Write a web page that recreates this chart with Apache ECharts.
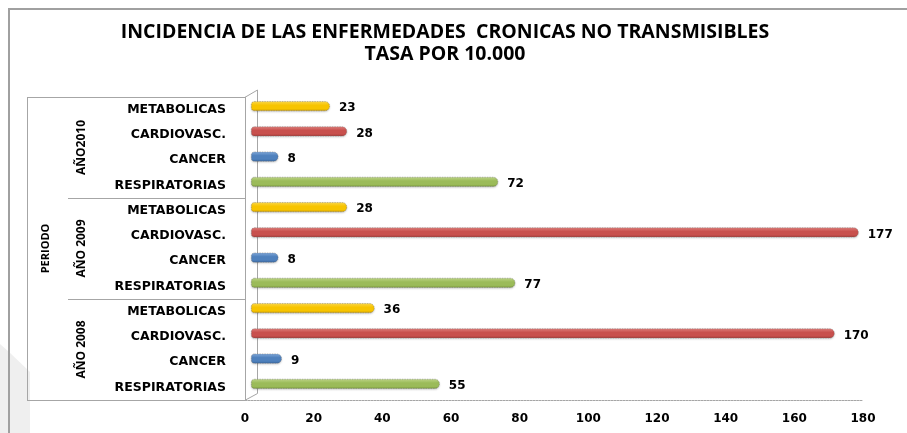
<!DOCTYPE html>
<html>
<head>
<meta charset="utf-8">
<script src="https://cdn.jsdelivr.net/npm/echarts@6/dist/echarts.min.js"></script>
<style>
  html, body { margin: 0; padding: 0; background: #ffffff; }
  #chart { width: 907px; height: 433px; }
</style>
</head>
<body>
<div id="chart"></div>
<script>
// Disease groups, listed bottom-to-top inside each year block
const diseases = ['RESPIRATORIAS', 'CANCER', 'CARDIOVASC.', 'METABOLICAS'];
const years = ['AÑO 2008', 'AÑO 2009', 'AÑO2010'];
const groupTitle = 'PERIODO';

// Rate per 10.000 inhabitants, in the same order as `diseases`
const rates2008 = [55, 9, 170, 36];
const rates2009 = [77, 8, 177, 28];
const rates2010 = [72, 8, 28, 23];

// Value axis ticks
const axisMin = 0;
const axisMax = 180;
const axisStep = 20;

const titleLines = [
  'INCIDENCIA DE LAS ENFERMEDADES  CRONICAS NO TRANSMISIBLES',
  'TASA POR 10.000'
];

// Cylinder shading per disease: light edge, body, dark edge
const shades = {
  'RESPIRATORIAS': ['#c4dc8c', '#9bbb59', '#78973a'],
  'CANCER':        ['#86aee0', '#4f81bd', '#36649c'],
  'CARDIOVASC.':   ['#e48481', '#c8504d', '#a13a37'],
  'METABOLICAS':   ['#ffdd55', '#f7c400', '#cf9f00']
};

const rateRows = [rates2008, rates2009, rates2010];
const categories = [];
const barData = [];
rateRows.forEach(function (row) {
  row.forEach(function (v, i) {
    const name = diseases[i];
    const s = shades[name];
    categories.push(name);
    barData.push({
      value: v,
      itemStyle: {
        color: new echarts.graphic.LinearGradient(0, 0, 0, 1, [
          { offset: 0, color: s[0] },
          { offset: 0.4, color: s[1] },
          { offset: 0.75, color: s[1] },
          { offset: 1, color: s[2] }
        ])
      }
    });
  });
});

const chart = echarts.init(document.getElementById('chart'), null, { renderer: 'canvas' });

const labelFont = 'DejaVu Sans';
const narrowFont = 'Open Sans';
const lineGray = '#a6a6a6';

chart.setOption({
  animation: false,
  backgroundColor: '#ffffff',
  grid: [
    // axes / labels frame
    { left: 245, top: 97, width: 618, height: 303 },
    // bars sit a little deeper (3D depth offset)
    { left: 251, top: 93.5, width: 618, height: 303 }
  ],
  xAxis: [
    {
      gridIndex: 0, type: 'value', min: axisMin, max: axisMax, interval: axisStep,
      axisLine: { show: true, lineStyle: { color: lineGray, type: [2, 1], width: 1 } },
      axisTick: { show: false },
      splitLine: { show: false },
      axisLabel: {
        margin: 13, color: '#000', fontFamily: labelFont, fontWeight: 'bold', fontSize: 12
      }
    },
    {
      gridIndex: 1, type: 'value', min: axisMin, max: axisMax, interval: axisStep, show: false
    }
  ],
  yAxis: [
    {
      gridIndex: 0, type: 'category', data: categories, position: 'left',
      axisLine: { show: true, lineStyle: { color: lineGray, width: 1 } },
      axisTick: { show: false },
      axisLabel: {
        interval: 0, margin: 19, color: '#000',
        fontFamily: labelFont, fontWeight: 'bold', fontSize: 12.5
      }
    },
    {
      gridIndex: 0, type: 'category', data: years, position: 'left',
      axisLine: { show: false },
      axisTick: { show: true, length: 177, interval: 0, lineStyle: { color: lineGray, width: 1 } },
      axisLabel: {
        interval: 0, rotate: 90, margin: 157, color: '#000',
        fontFamily: narrowFont, fontWeight: 'bold', fontSize: 12
      }
    },
    {
      gridIndex: 0, type: 'category', data: [groupTitle], position: 'left',
      axisLine: { show: false },
      axisTick: { show: true, length: 218, interval: 0, lineStyle: { color: lineGray, width: 1 } },
      axisLabel: {
        interval: 0, rotate: 90, margin: 194, color: '#000',
        fontFamily: narrowFont, fontWeight: 'bold', fontSize: 11
      }
    },
    {
      gridIndex: 1, type: 'category', data: categories, show: false
    }
  ],
  series: [
    {
      type: 'bar',
      xAxisIndex: 1,
      yAxisIndex: 3,
      data: barData,
      barWidth: 10,
      itemStyle: {
        borderRadius: [3, 5, 5, 3],
        borderColor: 'rgba(110,110,110,0.6)',
        borderWidth: 0.7,
        borderType: [1.5, 1],
        shadowColor: 'rgba(0,0,0,0.2)',
        shadowBlur: 2,
        shadowOffsetY: 1
      },
      label: {
        show: true, position: 'right', distance: 9, offset: [0, 2],
        color: '#000', fontFamily: labelFont, fontWeight: 'bold', fontSize: 12
      }
    }
  ],
  graphic: [
    // soft grey sweep in the lower-left corner
    {
      type: 'polygon', z: -10, silent: true,
      shape: { points: [[0, 344], [9, 352], [30, 372], [30, 433], [0, 433]] },
      style: { fill: '#efefef' }
    },
    // outer frame: top and left edges
    {
      type: 'line', z: 5, silent: true,
      shape: { x1: 8, y1: 9, x2: 907, y2: 9 },
      style: { stroke: '#a0a0a0', lineWidth: 2 }
    },
    {
      type: 'line', z: 5, silent: true,
      shape: { x1: 9, y1: 8, x2: 9, y2: 433 },
      style: { stroke: '#a0a0a0', lineWidth: 2 }
    },
    // outer edge of the multi-level category labels
    {
      type: 'line', z: 1, silent: true,
      shape: { x1: 27.5, y1: 97, x2: 27.5, y2: 400 },
      style: { stroke: lineGray, lineWidth: 1 }
    },
    // side wall of the 3D plot area
    {
      type: 'polyline', z: 0, silent: true,
      shape: { points: [[245.5, 97], [257.5, 90], [257.5, 393.5], [245.5, 400]] },
      style: { stroke: lineGray, lineWidth: 1, fill: null }
    },
    // title
    {
      type: 'text', z: 10, silent: true,
      x: 445, y: 32,
      style: {
        text: titleLines[0], textAlign: 'center', textVerticalAlign: 'middle',
        font: 'bold 19.5px "Open Sans"', fill: '#000'
      }
    },
    {
      type: 'text', z: 10, silent: true,
      x: 445, y: 54,
      style: {
        text: titleLines[1], textAlign: 'center', textVerticalAlign: 'middle',
        font: 'bold 19.5px "Open Sans"', fill: '#000'
      }
    }
  ]
});
</script>
</body>
</html>
